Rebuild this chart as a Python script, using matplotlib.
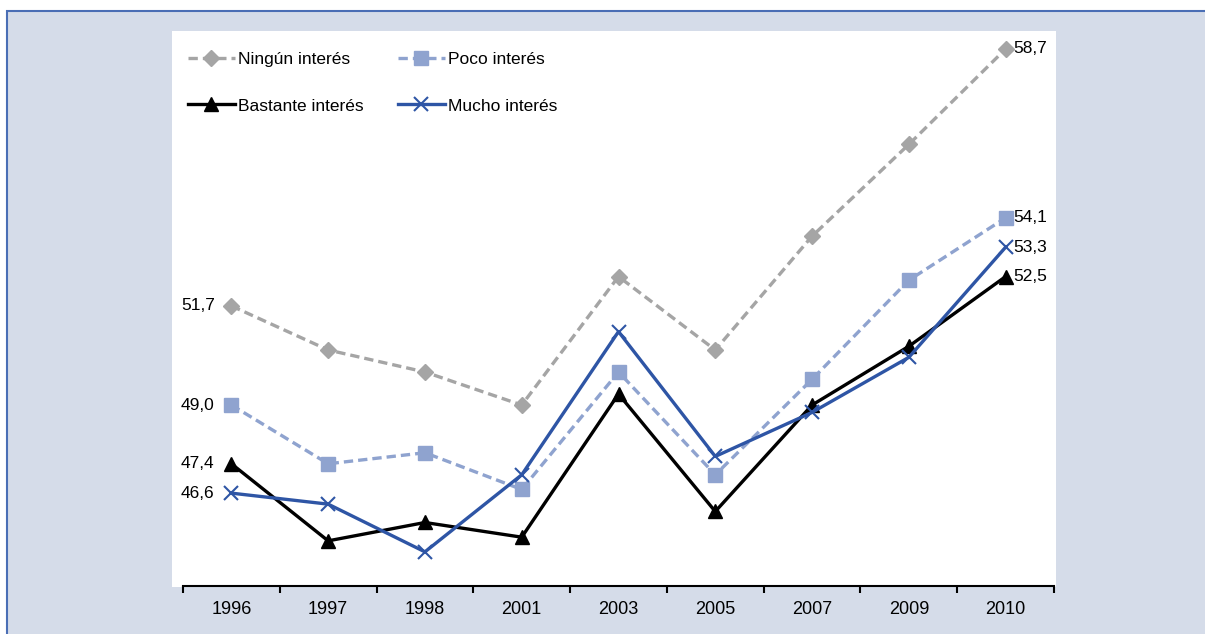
import matplotlib.pyplot as plt
from matplotlib.patches import Rectangle

plt.rcParams['font.family'] = ['Liberation Sans', 'DejaVu Sans']

years = ['1996', '1997', '1998', '2001', '2003', '2005', '2007', '2009', '2010']
ningun = [51.7, 50.5, 49.9, 49.0, 52.5, 50.5, 53.6, 56.1, 58.7]
poco = [49.0, 47.4, 47.7, 46.7, 49.9, 47.1, 49.7, 52.4, 54.1]
bastante = [47.4, 45.3, 45.8, 45.4, 49.3, 46.1, 49.0, 50.6, 52.5]
mucho = [46.6, 46.3, 45.0, 47.1, 51.0, 47.6, 48.8, 50.3, 53.3]

W, H = 1205, 634
fig = plt.figure(figsize=(W / 100, H / 100), dpi=100, facecolor='white')

# outer frame and white plot area
fig.patches.append(Rectangle((7 / W, -0.1), 1.2, 1 - 11 / H + 0.1, transform=fig.transFigure,
                             facecolor='#D5DCE9', edgecolor='#4A6EB5', lw=1.5, zorder=0))
fig.patches.append(Rectangle((172 / W, 47 / H), (1056 - 172) / W, (587 - 31) / H,
                             transform=fig.transFigure, facecolor='white', edgecolor='none', zorder=1))

ax = fig.add_axes([183 / W, 48 / H, (1054 - 183) / W, (586 - 31) / H])
ax.patch.set_alpha(0)
ax.set_zorder(2)

x = list(range(len(years)))
l1, = ax.plot(x, ningun, color='#A5A5A5', lw=2.4, dashes=(2.8, 1.5), marker='D', ms=8,
              label='Ningún interés')
l2, = ax.plot(x, poco, color='#8FA3CF', lw=2.4, dashes=(2.8, 1.5), marker='s', ms=10,
              label='Poco interés')
l3, = ax.plot(x, bastante, color='black', lw=2.4, marker='^', ms=10, label='Bastante interés')
l4, = ax.plot(x, mucho, color='#2E55A5', lw=2.4, marker='x', ms=9.5, mew=1.5,
              label='Mucho interés')

ax.set_xlim(-0.5, len(years) - 0.5)
ax.set_ylim(44.07, 59.19)

# data labels at first and last year
for s in [ningun, poco, bastante, mucho]:
    ax.annotate(f'{s[-1]:.1f}'.replace('.', ','), (x[-1], s[-1]), xytext=(5.5, 0),
                textcoords='offset points', va='center', ha='left', fontsize=12.5)
for s in [ningun, poco, bastante, mucho]:
    ax.annotate(f'{s[0]:.1f}'.replace('.', ','), (x[0], s[0]), xytext=(-12, 0),
                textcoords='offset points', va='center', ha='right', fontsize=12.5)

for sp in ['top', 'right', 'left']:
    ax.spines[sp].set_visible(False)
ax.spines['bottom'].set_linewidth(1.5)
ax.set_yticks([])
ax.set_xticks(x)
ax.set_xticklabels(years, fontsize=13)
ax.tick_params(axis='x', which='major', length=0, pad=11)
ax.set_xticks([i - 0.5 for i in range(len(years) + 1)], minor=True)
ax.tick_params(axis='x', which='minor', length=5, width=1.5, direction='out')

leg = fig.legend([l1, l3, l2, l4], [l1.get_label(), l3.get_label(), l2.get_label(), l4.get_label()],
                 ncol=2, loc='upper left', bbox_to_anchor=(188 / W, 1 - 52 / H),
                 bbox_transform=fig.transFigure, frameon=False, fontsize=12.5, borderpad=0,
                 handlelength=2.7, handletextpad=0.2, columnspacing=1.95, labelspacing=1.8,
                 numpoints=1, borderaxespad=0)
leg.set_zorder(3)

fig.savefig('out.png', dpi=100, facecolor=fig.get_facecolor())
